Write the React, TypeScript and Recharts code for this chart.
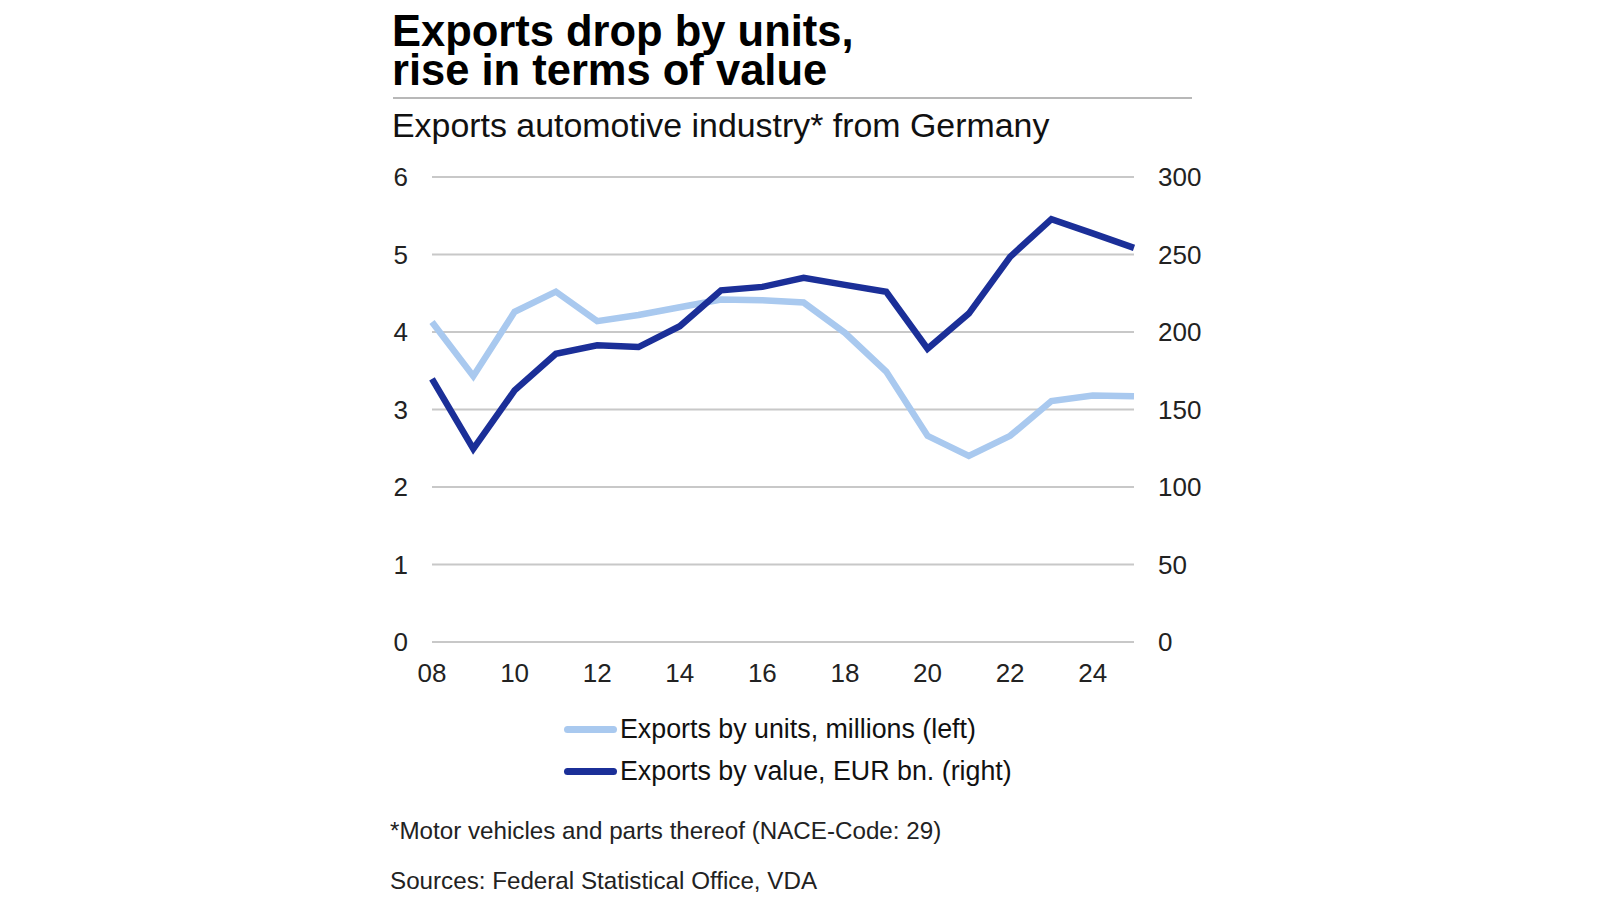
import React from 'react';
import { CartesianGrid, Line, LineChart, XAxis, YAxis } from 'recharts';

const years = [2008, 2009, 2010, 2011, 2012, 2013, 2014, 2015, 2016, 2017, 2018, 2019, 2020, 2021, 2022, 2023, 2024, 2025];
const unitsMillions = [4.13, 3.43, 4.26, 4.52, 4.14, 4.22, 4.32, 4.42, 4.41, 4.38, 3.99, 3.49, 2.66, 2.4, 2.66, 3.11, 3.18, 3.17];
const valueEurBn = [169.8, 124.6, 162.3, 186, 191.4, 190.3, 203.7, 226.9, 229.1, 234.9, 230.4, 225.9, 189.2, 211.9, 248.5, 272.8, 263.6, 254.3];

const xTicks = [2008, 2010, 2012, 2014, 2016, 2018, 2020, 2022, 2024];
const leftTicks = [0, 1, 2, 3, 4, 5, 6];
const rightTicks = [0, 50, 100, 150, 200, 250, 300];

const LIGHT = '#a9c9ef';
const DARK = '#1b2f98';
const FONT = '"Liberation Sans", Arial, sans-serif';

const series = [
  { key: 'units', name: 'Exports by units, millions (left)', color: LIGHT, axis: 'left' },
  { key: 'value', name: 'Exports by value, EUR bn. (right)', color: DARK, axis: 'right' },
];

const data = years.map((year, i) => ({
  year,
  units: unitsMillions[i],
  value: valueEurBn[i],
}));

const tickStyle = { fontSize: 26, fill: '#222', fontFamily: FONT };

const titleLine = {
  position: 'absolute' as const,
  left: 392,
  fontSize: 43.5,
  lineHeight: '39px',
  height: 39,
  fontWeight: 700,
  color: '#000',
  whiteSpace: 'nowrap' as const,
};

export default function App() {
  return (
    <div
      style={{
        position: 'fixed',
        left: 0,
        top: 0,
        width: 1600,
        height: 900,
        background: '#fff',
        fontFamily: FONT,
        color: '#111',
      }}
    >
      <div style={{ ...titleLine, top: 12 }}>Exports drop by units,</div>
      <div style={{ ...titleLine, top: 51 }}>rise in terms of value</div>
      <div style={{ position: 'absolute', left: 393, top: 97, width: 799, height: 2, background: '#b8b8b8' }} />
      <div style={{ position: 'absolute', left: 392, top: 105, fontSize: 33.9, lineHeight: '40px' }}>
        Exports automotive industry* from Germany
      </div>

      <div style={{ position: 'absolute', left: 332, top: 156 }}>
        <LineChart width={902} height={536} data={data} margin={{ top: 21, right: 0, bottom: 0, left: 0 }}>
          <CartesianGrid vertical={false} stroke="#c8c8c8" strokeWidth={2} yAxisId="left" />
          <XAxis
            dataKey="year"
            type="number"
            domain={[2008, 2025]}
            ticks={xTicks}
            tickFormatter={(v: number) => String(v % 100).padStart(2, '0')}
            axisLine={false}
            tickLine={false}
            tickSize={0}
            tickMargin={22}
            height={50}
            tick={tickStyle}
          />
          <YAxis
            yAxisId="left"
            domain={[0, 6]}
            ticks={leftTicks}
            axisLine={false}
            tickLine={false}
            tickSize={0}
            tickMargin={24}
            width={100}
            tick={tickStyle}
          />
          <YAxis
            yAxisId="right"
            orientation="right"
            domain={[0, 300]}
            ticks={rightTicks}
            axisLine={false}
            tickLine={false}
            tickSize={0}
            tickMargin={24}
            width={100}
            tick={{ ...tickStyle, textAnchor: 'start' }}
          />
          {series.map((s) => (
            <Line
              key={s.key}
              yAxisId={s.axis}
              dataKey={s.key}
              name={s.name}
              stroke={s.color}
              strokeWidth={6.5}
              dot={false}
              type="linear"
              isAnimationActive={false}
            />
          ))}
        </LineChart>
      </div>

      <div style={{ position: 'absolute', left: 564, top: 708 }}>
        {series.map((s) => (
          <div key={s.key} style={{ display: 'flex', alignItems: 'center', height: 42, fontSize: 26.8 }}>
            <span style={{ width: 53, height: 7, borderRadius: 4, background: s.color, marginRight: 3 }} />
            <span>{s.name}</span>
          </div>
        ))}
      </div>

      <div style={{ position: 'absolute', left: 390, top: 817, fontSize: 24.2, color: '#222' }}>
        *Motor vehicles and parts thereof (NACE-Code: 29)
      </div>
      <div style={{ position: 'absolute', left: 390, top: 867, fontSize: 24.2, color: '#222' }}>
        Sources: Federal Statistical Office, VDA
      </div>
    </div>
  );
}
